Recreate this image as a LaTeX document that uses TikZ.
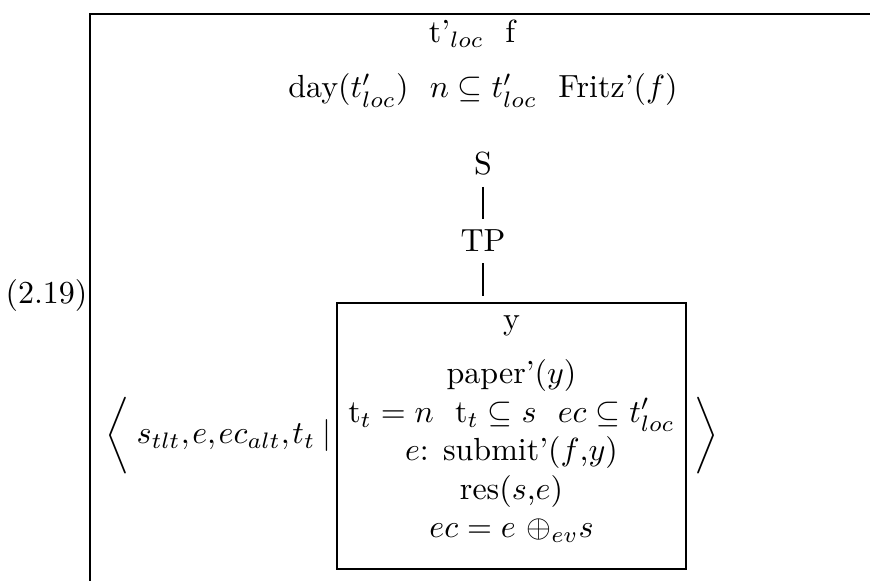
\documentclass[tikz,border=0pt]{standalone}
\usepackage{amsmath}
\usetikzlibrary{positioning}

\begin{document}
\begin{tikzpicture}[
  x=0.3125pt,
  y=-0.3125pt,
  frameline/.style={
    draw=black,
    line width=0.5pt},
  drsbox/.style={
    rectangle,
    draw=black,
    line width=0.45pt,
    minimum width=109.1pt,
    minimum height=83.1pt,
    inner sep=0pt},
  textline/.style={
    anchor=base,
    inner sep=0pt},
  treelabel/.style={
    anchor=base},
  branch/.style={
    draw=black,
    line width=0.45pt},
  delim/.style={
    inner sep=0pt},
]

\useasboundingbox (0,0) rectangle (870,581);
\clip (0,0) rectangle (870,581);

% outer drs, cut off at right and bottom
\draw[frameline] (900,14) -- (90,14) -- (90,600);

\node[anchor=base east, inner sep=0pt] (exnum) at (88,304) {(2.19)};

\node[textline] (outeruniv) at (472,43) {t'$_{loc}$~~f};
\node[textline] (outercond) at (483,98)
  {day($t'_{loc}$)~~$n \subseteq t'_{loc}$~~Fritz'($f$)};

% tree
\node[treelabel] (s)  at (483,175) {S};
\node[treelabel] (tp) at (483,252) {TP};

% inner drs
\node[drsbox] (innerbox) at (511.5,436) {};

\node[textline] (inneruniv) at (511.5,330) {y};
\node[textline] (cond1) at (511.5,384) {paper'($y$)};
\node[textline] (cond2) at ([yshift=-12pt]cond1.base)
  {t$_t = n$~~t$_t \subseteq s$~~$ec \subseteq t'_{loc}$};
\node[textline] (cond3) at ([yshift=-12pt]cond2.base)
  {$e$: submit'($f$,$y$)};
\node[textline] (cond4) at ([yshift=-12pt]cond3.base)
  {res($s$,$e$)};
\node[textline] (cond5) at ([yshift=-12pt]cond4.base)
  {$ec = e$ $\oplus_{ev}$$s$};

% angle brackets round the box
\node[delim] (langle) at (117.5,436) {$\biggl\langle$};
\node[delim] (rangle) at (706,436) {$\biggr\rangle$};
\node[anchor=base west, inner sep=0pt] (bindvars) at (136,444)
  {\thinmuskip=1.5mu$s_{tlt}, e, ec_{alt}, t_t\mskip4mu|$};

\draw[branch] (s) -- (tp);
\draw[branch, shorten >=2pt] (tp) -- (tp.south |- innerbox.north);

\end{tikzpicture}
\end{document}
